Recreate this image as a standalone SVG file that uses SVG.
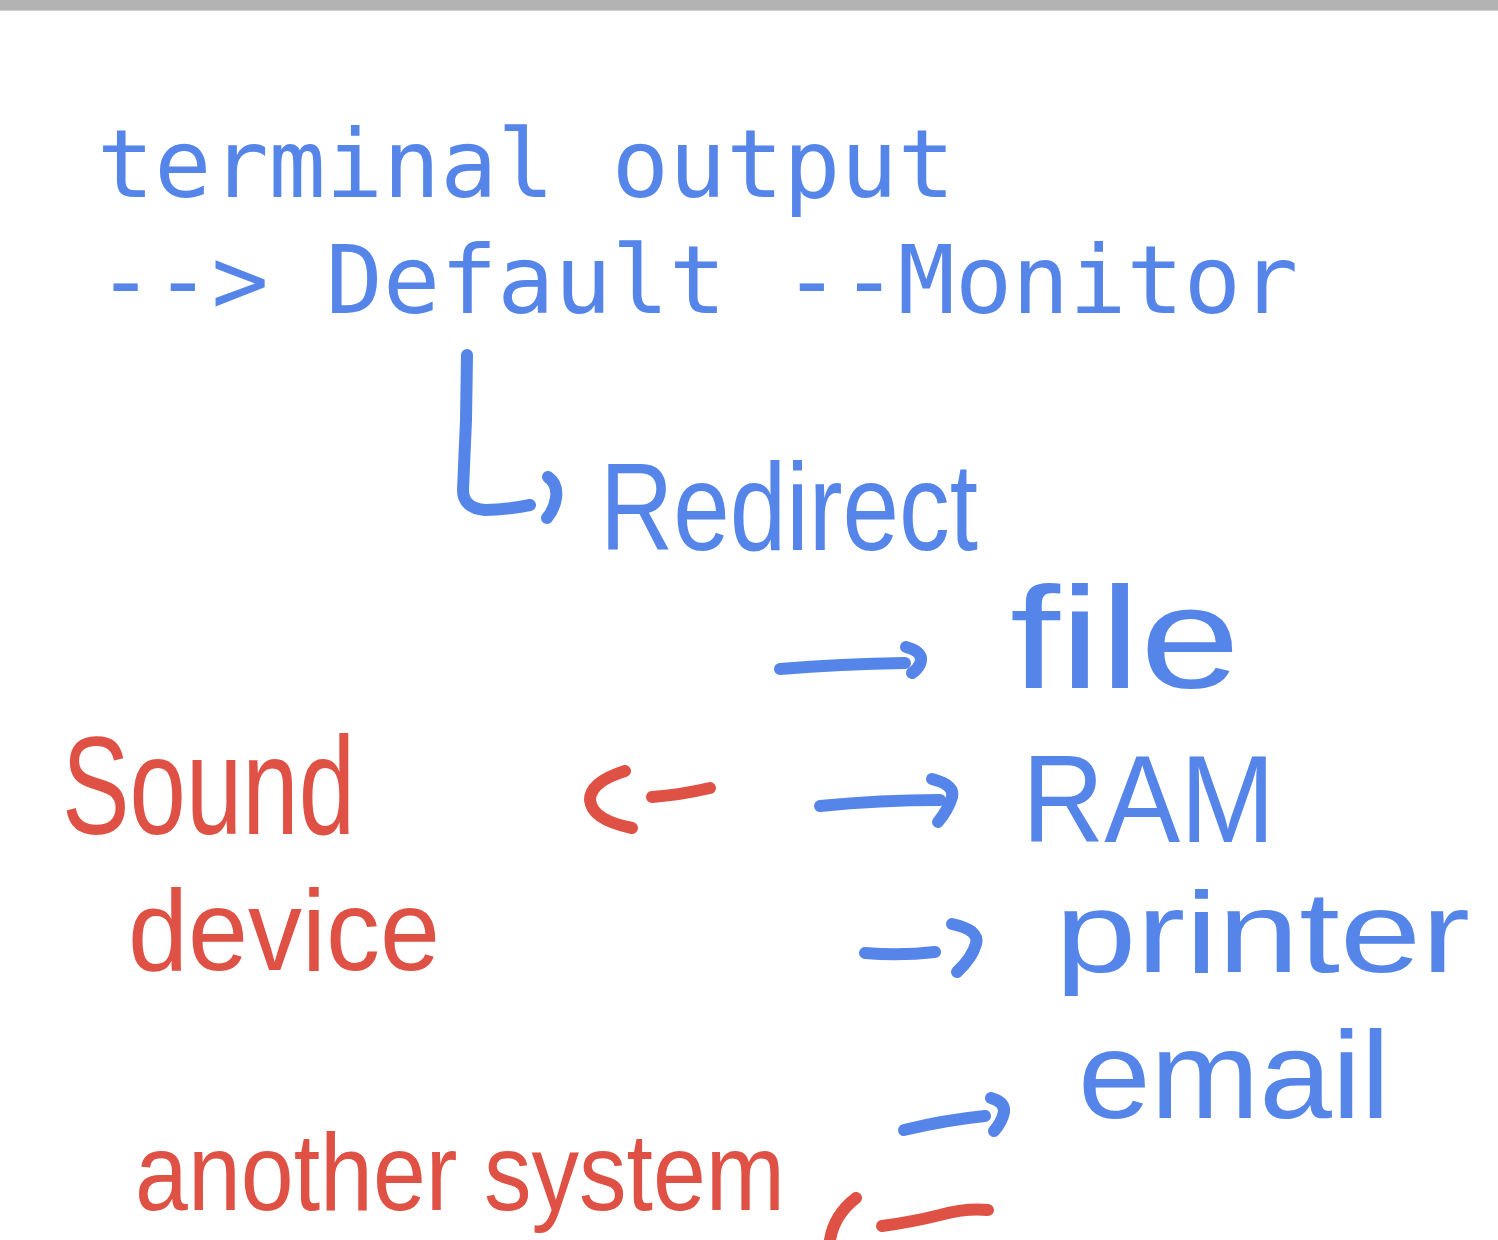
<svg xmlns="http://www.w3.org/2000/svg" width="1498" height="1240" viewBox="0 0 1498 1240">
<style>
.bg{fill:#ffffff}
.bar{fill:#b3b3b3}
.mono{font-family:"DejaVu Sans Mono","Liberation Mono",monospace;font-size:95px;fill:#5585e9}
.hb{font-family:"Liberation Sans",Arial,sans-serif;fill:#5585e9}
.hr{font-family:"Liberation Sans",Arial,sans-serif;fill:#de5144}
.sb{fill:none;stroke:#5585e9;stroke-width:12;stroke-linecap:round;stroke-linejoin:round}
.sr{fill:none;stroke:#de5144;stroke-width:12;stroke-linecap:round;stroke-linejoin:round}
</style>
<rect class="bg" x="0" y="0" width="1498" height="1240"/>
<rect class="bar" x="0" y="0" width="1498" height="10"/>
<rect x="0" y="10" width="1498" height="1" fill="#d0d0d0"/>

<g id="terminal-output">
<text class="mono" x="97" y="197">terminal output</text>
<text class="mono" x="97" y="313">--&gt; Default --Monitor</text>
</g>

<g id="redirect"><text class="hb" x="600" y="550" font-size="125" textLength="378" lengthAdjust="spacingAndGlyphs">Redirect</text></g>
<g id="file"><text class="hb" x="1010" y="688" font-size="145" textLength="230" lengthAdjust="spacingAndGlyphs">file</text></g>
<g id="ram"><text class="hb" x="1022" y="842" font-size="125" textLength="253" lengthAdjust="spacingAndGlyphs">RAM</text></g>
<g id="printer"><text class="hb" x="1055" y="972" font-size="115" textLength="415" lengthAdjust="spacingAndGlyphs">printer</text></g>
<g id="email"><text class="hb" x="1078" y="1118" font-size="125" textLength="312" lengthAdjust="spacingAndGlyphs">email</text></g>
<g id="sound-device">
<text class="hr" x="62" y="834" font-size="140" textLength="293" lengthAdjust="spacingAndGlyphs">Sound</text>
<text class="hr" x="128" y="970" font-size="115" textLength="312" lengthAdjust="spacingAndGlyphs">device</text>
</g>
<g id="another-system"><text class="hr" x="135" y="1210" font-size="110" textLength="650" lengthAdjust="spacingAndGlyphs">another system</text></g>

<g id="connectors">
<path class="sb" d="M467,355 L466,420 L463,490 Q463,508 485,510 Q505,510 530,505"/>
<path class="sb" d="M548,477 Q558,484 556,498 Q554,510 547,518"/>
<path class="sb" d="M780,669 Q840,664 905,663"/>
<path class="sb" d="M906,647 Q925,652 920,664 Q917,670 912,673"/>
<path class="sb" d="M820,806 Q880,800 940,800"/>
<path class="sb" d="M932,779 Q955,785 952,797 Q948,810 938,822"/>
<path class="sb" d="M865,953 Q900,956 935,952"/>
<path class="sb" d="M952,924 Q980,930 976,944 Q972,958 957,972"/>
<path class="sb" d="M904,1130 Q945,1120 985,1116"/>
<path class="sb" d="M991,1098 Q1005,1102 1004,1112 Q1002,1122 994,1131"/>
<path class="sr" d="M625,771 Q590,782 590,800 Q592,820 632,828"/>
<path class="sr" d="M652,797 Q680,795 710,788"/>
<path class="sr" d="M856,1198 Q834,1215 830,1240"/>
<path class="sr" d="M882,1226 Q912,1222 940,1215 Q965,1208 988,1210"/>
</g>
</svg>
